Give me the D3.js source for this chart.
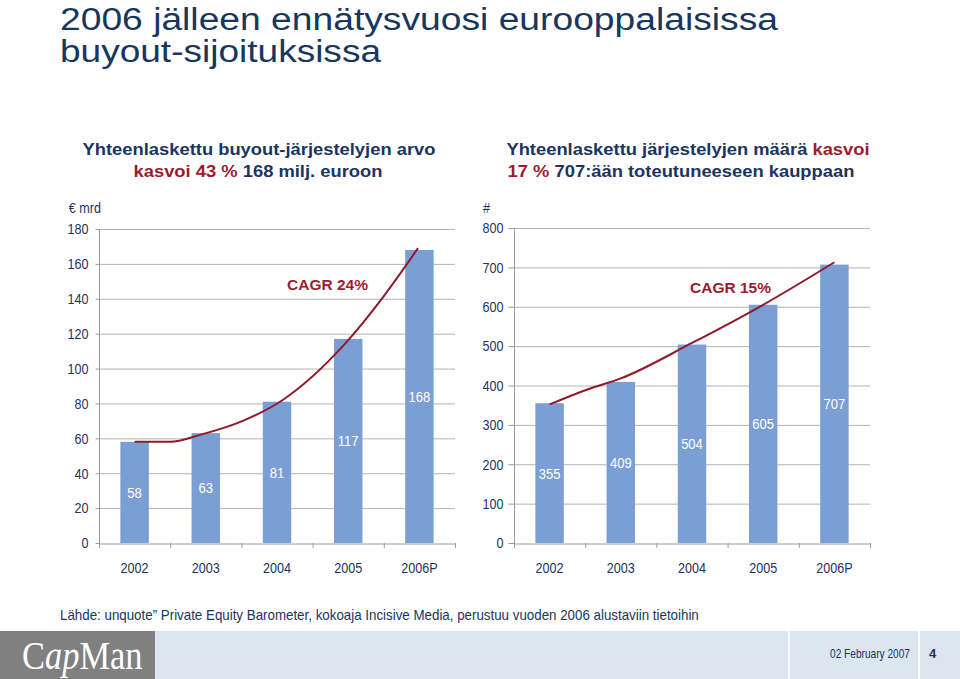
<!DOCTYPE html>
<html>
<head>
<meta charset="utf-8">
<script src="https://cdn.jsdelivr.net/npm/d3@7"></script>
<style>
  body { margin: 0; background: #fff; }
  svg { display: block; }
  .sans { font-family: "Liberation Sans", Arial, Helvetica, sans-serif; }
</style>
</head>
<body>
<svg id="slide" width="960" height="679"></svg>
<script>
// data
const years = ["2002", "2003", "2004", "2005", "2006P"]
const valueEur = [58, 63, 81, 117, 168]          // € mrd
const dealCount = [355, 409, 504, 605, 707]      // #
const eurTicks = [0, 20, 40, 60, 80, 100, 120, 140, 160, 180]
const countTicks = [0, 100, 200, 300, 400, 500, 600, 700, 800]
// hand drawn CAGR curves: [category index, value]
const trendEur = [[0, 58], [0.5, 58], [0.92, 62], [1.52, 70], [2.08, 82], [2.95, 114], [3.49, 141], [3.98, 169]]
const trendCount = [[0, 352], [0.53, 390], [1, 418], [2, 508], [3, 605], [4, 713]]

const NAVY = "#1b3560", RED = "#9e1b2d", BAR = "#7b9fd4", GRID = "#b3b3b3"
const NARROW = 0.84   // the slide uses a condensed face for numbers

const svg = d3.select("#slide")

// narrow text: x is divided so that scale() lands it in place
function narrowText(sel, x, y, s) {
    return sel.append("text").attr("class", "sans")
        .attr("x", x / s).attr("y", y)
        .attr("transform", `scale(${s},1)`)
}

// title
const title = svg.append("g").attr("class", "sans").attr("fill", "#17375e")
title.append("text").attr("x", 60).attr("y", 30).attr("font-size", 31)
    .attr("textLength", 718).attr("lengthAdjust", "spacingAndGlyphs")
    .text("2006 jälleen ennätysvuosi eurooppalaisissa")
title.append("text").attr("x", 60).attr("y", 62).attr("font-size", 31)
    .attr("textLength", 321).attr("lengthAdjust", "spacingAndGlyphs")
    .text("buyout-sijoituksissa")

// subtitles
function subLine(cx, y, parts) {
    const g = svg.append("g").attr("transform", `translate(${cx},${y}) scale(1.08,1)`)
    const t = g.append("text").attr("class", "sans").attr("font-size", 17).attr("font-weight", "bold")
                .attr("text-anchor", "middle")
    parts.forEach(p => t.append("tspan").attr("fill", p[1] ? RED : NAVY).text(p[0]))
}
subLine(259, 155, [["Yhteenlaskettu buyout-järjestelyjen arvo", false]])
subLine(258, 177, [["kasvoi 43 %", true], [" 168 milj. euroon", false]])
subLine(688, 155, [["Yhteenlaskettu järjestelyjen määrä ", false], ["kasvoi", true]])
subLine(681, 177, [["17 %", true], [" 707:ään toteutuneeseen kauppaan", false]])

function renderChart(opt) {
    const g = svg.append("g")
    const x = d3.scaleBand().domain(years).range([opt.x0, opt.x1]).padding(0)
    const y = d3.scaleLinear().domain([0, opt.max]).range([543, opt.top])
    const barW = x.bandwidth() * 0.4
    const xIdx = i => x(years[0]) + x.bandwidth() / 2 + i * x.step()

    // gridlines
    g.selectAll(".grid").data(opt.ticks.filter(d => d > 0)).enter()
        .append("line")
        .attr("x1", opt.x0).attr("x2", opt.x1)
        .attr("y1", d => y(d) + 0.5).attr("y2", d => y(d) + 0.5)
        .attr("stroke", GRID).attr("stroke-width", 1)

    // y axis
    const ya = g.append("g").attr("transform", `translate(${opt.x0 + 0.5},0)`)
        .call(d3.axisLeft(y).tickValues(opt.ticks).tickSize(opt.tickLen).tickPadding(opt.tickPad).tickSizeOuter(0))
    ya.select(".domain").attr("stroke", "#9a9a9a").attr("d", `M0,${y(opt.max)}V548`)
    ya.selectAll(".tick line").attr("stroke", "#9a9a9a")
    ya.selectAll(".tick text").attr("class", "sans").attr("font-size", 15).attr("fill", NAVY)
        .attr("x", -(opt.tickLen + opt.tickPad) / NARROW)
        .attr("transform", `scale(${NARROW},1)`)

    // bars
    g.selectAll(".bar").data(opt.values).enter()
        .append("rect")
        .attr("x", (d, i) => x(years[i]) + (x.bandwidth() - barW) / 2)
        .attr("y", d => y(d))
        .attr("width", barW)
        .attr("height", d => y(0) - y(d))
        .attr("fill", BAR)

    // x axis
    const xa = g.append("g").attr("transform", "translate(0,543.5)")
        .call(d3.axisBottom(x).tickSize(0).tickPadding(19))
    xa.select(".domain").attr("stroke", "#9a9a9a")
    xa.selectAll(".tick text").attr("class", "sans").attr("font-size", 15).attr("fill", NAVY)
        .attr("transform", `scale(${NARROW},1)`)
    const bounds = years.map(d => x(d)).concat([x(years[years.length - 1]) + x.bandwidth()])
    g.selectAll(".xtick").data(bounds).enter()
        .append("line")
        .attr("x1", d => d + 0.5).attr("x2", d => d + 0.5)
        .attr("y1", 543).attr("y2", 548)
        .attr("stroke", "#9a9a9a")

    // value labels
    opt.values.forEach((d, i) => {
        narrowText(g, x(years[i]) + x.bandwidth() / 2, y(d / 2), NARROW)
            .attr("dy", "0.35em")
            .attr("text-anchor", "middle")
            .attr("font-size", 15.5)
            .attr("fill", "#fff")
            .text(d)
    })

    // CAGR curve
    const line = d3.line().x(d => xIdx(d[0])).y(d => y(d[1])).curve(d3.curveMonotoneX)
    g.append("path").datum(opt.trend)
        .attr("d", line)
        .attr("fill", "none")
        .attr("stroke", "#8e1a2c")
        .attr("stroke-width", 2)

    g.append("text").attr("class", "sans")
        .attr("x", opt.cagrX).attr("y", opt.cagrY)
        .attr("font-size", 15.5).attr("font-weight", "bold").attr("fill", RED)
        .text(opt.cagr)

    narrowText(g, opt.unitX, 213, NARROW)
        .attr("text-anchor", opt.unitAnchor)
        .attr("font-size", 15).attr("fill", NAVY)
        .text(opt.unit)
}

renderChart({ x0: 99, x1: 455, top: 229, max: 180, ticks: eurTicks, values: valueEur, trend: trendEur,
              tickLen: 4, tickPad: 7, cagr: "CAGR 24%", cagrX: 287, cagrY: 290, unit: "€ mrd", unitX: 101, unitAnchor: "end" })
renderChart({ x0: 514, x1: 870, top: 228, max: 800, ticks: countTicks, values: dealCount, trend: trendCount,
              tickLen: 6, tickPad: 5, cagr: "CAGR 15%", cagrX: 690, cagrY: 293, unit: "#", unitX: 483, unitAnchor: "start" })

// source
narrowText(svg, 60, 620, 0.92)
    .attr("font-size", 14.5).attr("fill", NAVY)
    .text("Lähde: unquote” Private Equity Barometer, kokoaja Incisive Media, perustuu vuoden 2006 alustaviin tietoihin")

// footer
svg.append("rect").attr("x", 0).attr("y", 631).attr("width", 155).attr("height", 48).attr("fill", "#808080")
svg.append("rect").attr("x", 155).attr("y", 631).attr("width", 805).attr("height", 48).attr("fill", "#dce6f1")
svg.append("line").attr("x1", 789).attr("x2", 789).attr("y1", 631).attr("y2", 679).attr("stroke", "#fff").attr("stroke-width", 1.5)
svg.append("line").attr("x1", 919).attr("x2", 919).attr("y1", 631).attr("y2", 679).attr("stroke", "#fff").attr("stroke-width", 2)

const logo = svg.append("g").attr("transform", "translate(22,669) scale(0.84,1)")
    .append("text").attr("font-family", "'Liberation Serif', 'Times New Roman', serif")
    .attr("font-size", 41).attr("fill", "#fff")
logo.append("tspan").text("C")
logo.append("tspan").attr("font-style", "italic").text("ap")
logo.append("tspan").text("Man")

narrowText(svg, 910, 658, 0.78)
    .attr("text-anchor", "end")
    .attr("font-size", 13).attr("fill", NAVY).text("02 February 2007")
svg.append("text").attr("class", "sans")
    .attr("x", 929).attr("y", 658).attr("font-weight", "bold")
    .attr("font-size", 13).attr("fill", NAVY).text("4")
</script>
</body>
</html>
